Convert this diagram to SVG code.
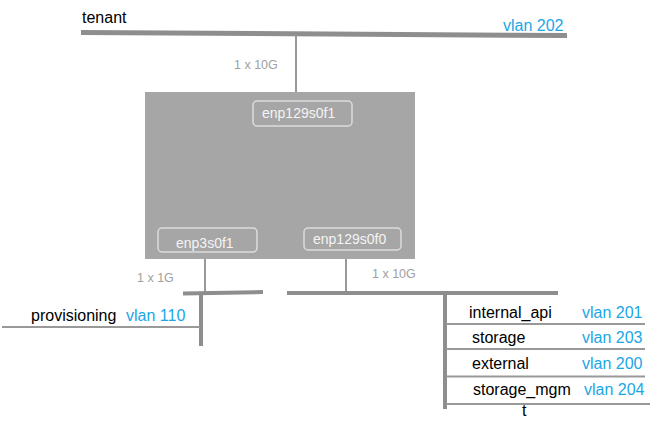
<svg xmlns="http://www.w3.org/2000/svg" width="662" height="427" viewBox="0 0 662 427">
<style>
text{font-family:"Liberation Sans",Arial,sans-serif}
.lbl{font-size:16px;fill:#000}
.vlan{font-size:16px;fill:#1aa7e6}
.spd{font-size:12.5px;fill:#a0a0a0}
.port{font-size:14px;fill:#f4f4f4}
.bus{stroke:#8e8e8e;stroke-width:5;fill:none}
.bus4{stroke:#8e8e8e;stroke-width:4;fill:none}
.thin{stroke:#999;stroke-width:2;fill:none}
.pbox{fill:none;stroke:#dcdcdc;stroke-width:1.5}
</style>
<rect width="662" height="427" fill="#fff"/>
<g id="connectors">
<line class="bus" x1="81" y1="32.5" x2="567" y2="35.5"/>
<line class="thin" x1="296" y1="35" x2="296" y2="92"/>
<line class="thin" x1="205" y1="259" x2="205" y2="292"/>
<line class="bus4" x1="183" y1="293.5" x2="263" y2="292"/>
<line class="bus4" x1="201" y1="293" x2="201" y2="346"/>
<line class="thin" x1="2" y1="327" x2="200" y2="327"/>
<line class="thin" x1="346" y1="259" x2="346" y2="291"/>
<line class="bus4" x1="287" y1="293" x2="558" y2="293"/>
<line class="bus4" x1="445" y1="293" x2="445" y2="409"/>
<line class="thin" x1="446" y1="324" x2="645" y2="324"/>
<line class="thin" x1="446" y1="349" x2="645" y2="349"/>
<line class="thin" x1="446" y1="376.5" x2="645" y2="376.5"/>
<line class="thin" x1="446" y1="404" x2="650" y2="404"/>
</g>
<g id="tenant">
<text class="lbl" x="82" y="23">tenant</text>
<text class="vlan" x="503" y="31">vlan 202</text>
<text class="spd" x="234" y="69">1 x 10G</text>
</g>
<g id="server">
<rect x="145" y="92" width="270" height="167" fill="#a6a6a6"/>
</g>
<g id="port-enp129s0f1">
<rect class="pbox" x="253" y="101" width="99" height="25" rx="4"/>
<text class="port" x="262" y="118">enp129s0f1</text>
</g>
<g id="port-enp3s0f1">
<rect class="pbox" x="158" y="228" width="99" height="24" rx="4"/>
<text class="port" x="176" y="248">enp3s0f1</text>
</g>
<g id="port-enp129s0f0">
<rect class="pbox" x="304" y="228" width="97" height="22" rx="4"/>
<text class="port" x="313" y="244">enp129s0f0</text>
</g>
<g id="provisioning">
<text class="spd" x="137" y="282">1 x 1G</text>
<text class="lbl" x="31" y="321">provisioning</text>
<text class="vlan" x="126" y="321">vlan 110</text>
</g>
<g id="trunk">
<text class="spd" x="372" y="278">1 x 10G</text>
<text class="lbl" x="469" y="318">internal_api</text>
<text class="vlan" x="582" y="318">vlan 201</text>
<text class="lbl" x="472" y="343">storage</text>
<text class="vlan" x="582" y="343">vlan 203</text>
<text class="lbl" x="472" y="369">external</text>
<text class="vlan" x="582" y="369">vlan 200</text>
<text class="lbl" x="473" y="395">storage_mgm</text>
<text class="vlan" x="584" y="395">vlan 204</text>
<text class="lbl" x="522" y="416">t</text>
</g>
</svg>
